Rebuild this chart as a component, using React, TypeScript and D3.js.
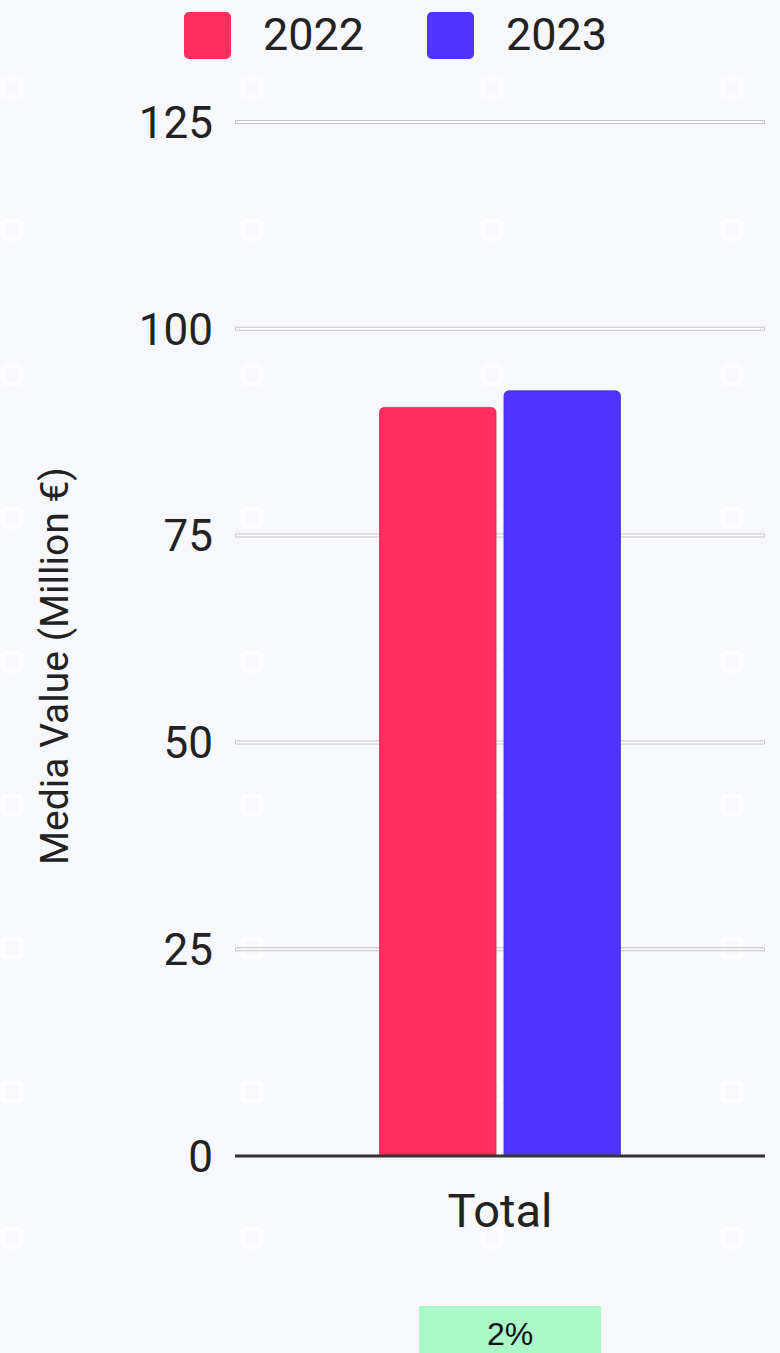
import React from "react";
import * as d3 from "d3";

const categories = ["Total"];
const seriesNames = ["2022", "2023"];
const values2022 = [90.5];
const values2023 = [92.5];
const yTicks = [0, 25, 50, 75, 100, 125];
const changeLabels = ["2%"];

const colors = ["#FF2E5E", "#5033FF"];

const W = 780;
const H = 1353;
const margin = { left: 235, right: 15, top: 122, bottom: 197 };

// faint pattern of background glyphs
const patternCols = [12, 252, 492, 732];
const patternRows = [88, 230, 375, 518, 662, 805, 948, 1092, 1238];

export default function App() {
  const x = d3
    .scaleBand<string>()
    .domain(categories)
    .range([margin.left, W - margin.right])
    .paddingInner(0)
    .paddingOuter(0.6);
  const x1 = d3
    .scaleBand<string>()
    .domain(seriesNames)
    .range([0, x.bandwidth()])
    .paddingInner(0.064);
  const y = d3
    .scaleLinear()
    .domain([0, 125])
    .range([H - margin.bottom, margin.top]);

  const series = [values2022, values2023];

  const roundTop = (x0: number, y0: number, w: number, h: number, r: number) => {
    const p = d3.path();
    p.moveTo(x0, y0 + h);
    p.lineTo(x0, y0 + r);
    p.arcTo(x0, y0, x0 + r, y0, r);
    p.lineTo(x0 + w - r, y0);
    p.arcTo(x0 + w, y0, x0 + w, y0 + r, r);
    p.lineTo(x0 + w, y0 + h);
    p.closePath();
    return p.toString();
  };

  return (
    <svg
      width={W}
      height={H}
      style={{ position: "absolute", left: 0, top: 0, display: "block" }}
      fontFamily="Roboto, 'Noto Sans', sans-serif"
    >
      <rect x={0} y={0} width={W} height={H} fill="#F7F8FC" />
      <g opacity={0.7}>
        {patternRows.map((py, i) =>
          patternCols.map((px, j) => (
            <rect
              key={`p${i}-${j}`}
              x={px - 9}
              y={py - 9}
              width={18}
              height={18}
              rx={3}
              fill="none"
              stroke="#FFFFFF"
              strokeWidth={4}
            />
          ))
        )}
      </g>

      {/* legend */}
      {seriesNames.map((s, i) => (
        <g key={s} transform={`translate(${184 + i * 243},12)`}>
          <rect width={47} height={47} rx={5} fill={colors[i]} />
          <text x={79} y={38} fontSize={45} fill="#222">
            {s}
          </text>
        </g>
      ))}

      {/* grid */}
      {yTicks
        .filter((t) => t !== 0)
        .map((t) => (
          <g key={t}>
            <line x1={margin.left} x2={W - margin.right} y1={y(t)} y2={y(t)} stroke="#C4C4C4" strokeWidth={4} />
            <line x1={margin.left + 1} x2={W - margin.right - 1} y1={y(t)} y2={y(t)} stroke="#FFFFFF" strokeWidth={2} />
          </g>
        ))}
      {yTicks.map((t) => (
        <text key={`l${t}`} x={213} y={y(t)} dy="0.36em" textAnchor="end" fontSize={44} fill="#222">
          {t}
        </text>
      ))}

      {/* bars */}
      {categories.map((c, ci) =>
        seriesNames.map((s, si) => {
          const v = series[si][ci];
          const bx = (x(c) ?? 0) + (x1(s) ?? 0);
          return (
            <path
              key={`${c}-${s}`}
              d={roundTop(bx, y(v), x1.bandwidth(), y(0) - y(v), 5)}
              fill={colors[si]}
              stroke={d3.color(colors[si])!.darker(0.4).toString()}
              strokeWidth={0.8}
            />
          );
        })
      )}

      {/* baseline */}
      <line x1={margin.left} x2={W - margin.right} y1={y(0)} y2={y(0)} stroke="#333" strokeWidth={3} />

      {categories.map((c) => (
        <text
          key={`c${c}`}
          x={(x(c) ?? 0) + x.bandwidth() / 2}
          y={1227}
          textAnchor="middle"
          fontSize={47}
          fill="#222"
        >
          {c}
        </text>
      ))}

      {/* y axis title */}
      <text
        transform={`translate(68,666) rotate(-90)`}
        textAnchor="middle"
        fontSize={39}
        fill="#222"
      >
        Media Value (Million €)
      </text>

      {/* change badge */}
      {categories.map((c, ci) => (
        <g key={`b${c}`}>
          <rect x={419} y={1306} width={182} height={60} fill="#AAF8C8" />
          <text
            x={510}
            y={1345}
            textAnchor="middle"
            fontSize={32}
            fontFamily="'Liberation Sans', Arial, sans-serif"
            fill="#111"
          >
            {changeLabels[ci]}
          </text>
        </g>
      ))}
    </svg>
  );
}
